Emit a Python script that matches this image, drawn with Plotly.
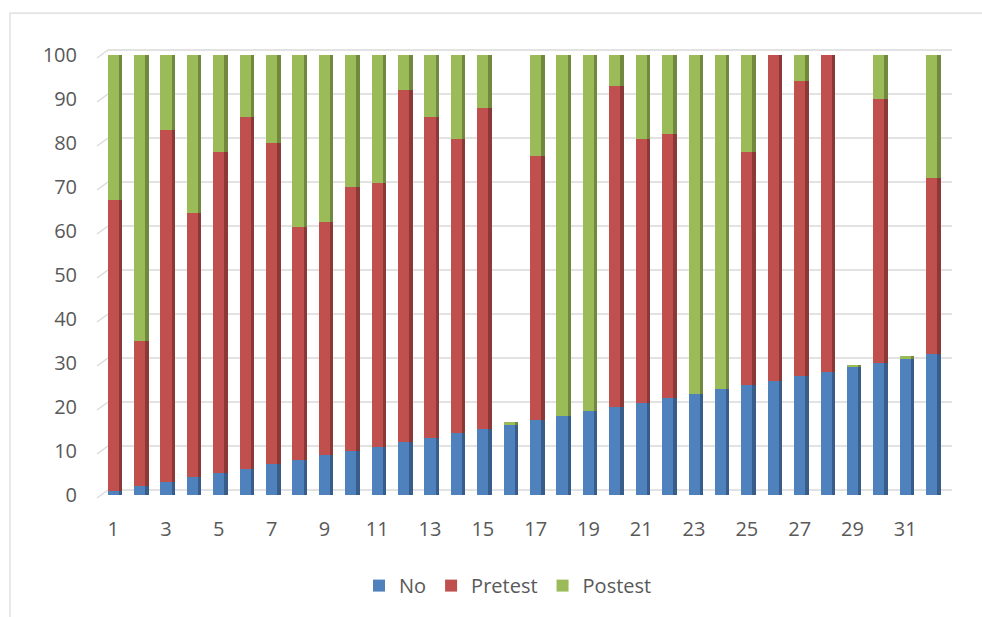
import plotly.graph_objects as go

# Participants 1..32 and the three stacked percentages
participants = list(range(1, 33))
no_pct = list(range(1, 33))
pretest_top = [67, 35, 83, 64, 78, 86, 80, 61, 62, 70, 71, 92, 86, 81, 88, 16,
               77, 18, 19, 93, 81, 82, 23, 24, 78, 100, 94, 100, 29, 90, 31, 72]
postest_pct = [33, 65, 17, 36, 22, 14, 20, 39, 38, 30, 29, 8, 14, 19, 12, 0.5,
               23, 82, 81, 7, 19, 18, 77, 76, 22, 0, 6, 0, 0.5, 10, 0.5, 28]
pretest_pct = [t - n for t, n in zip(pretest_top, no_pct)]

series = [
    ("No", no_pct, "#4F81BD", "#385D8A"),
    ("Pretest", pretest_pct, "#C0504D", "#8C3836"),
    ("Postest", postest_pct, "#9BBB59", "#71893F"),
]

W, H = 982, 617
L, R, T, B = 100, 30, 55, 120
PW, PH = W - L - R, H - T - B


def px_x(x):
    return (x - L) / PW


def px_y(y):
    return (H - B - y) / PH


FRONT_W = 0.42
SIDE_W = 0.13

fig = go.Figure()
base = [0.0] * len(participants)
for name, vals, col, dark in series:
    fig.add_trace(go.Bar(
        x=participants, y=vals, base=list(base), name=name,
        marker=dict(color=col, line=dict(width=0)),
        width=FRONT_W, offset=-FRONT_W / 2, legendgroup=name,
    ))
    fig.add_trace(go.Bar(
        x=participants, y=vals, base=list(base), name=name,
        marker=dict(color=dark, line=dict(width=0)),
        width=SIDE_W, offset=FRONT_W / 2, legendgroup=name,
        showlegend=False, hoverinfo="skip",
    ))
    base = [b + v for b, v in zip(base, vals)]

# gridlines on the back wall with a short slanted floor/side segment
grid_col = "#D9D9D9"
shapes = []
for v in range(0, 101, 10):
    yb = (H - B) - v * PH / 100.0
    shapes.append(dict(type="line", xref="paper", yref="paper",
                       x0=px_x(108), x1=px_x(952), y0=px_y(yb - 5), y1=px_y(yb - 5),
                       line=dict(color=grid_col, width=1.3), layer="below"))
    shapes.append(dict(type="line", xref="paper", yref="paper",
                       x0=px_x(97), x1=px_x(108), y0=px_y(yb + 3), y1=px_y(yb - 5),
                       line=dict(color=grid_col, width=1.3), layer="below"))
# chart border
shapes.append(dict(type="rect", xref="paper", yref="paper",
                   x0=px_x(10), x1=px_x(995), y0=px_y(13), y1=px_y(630),
                   line=dict(color="#D9D9D9", width=1.2), fillcolor="rgba(0,0,0,0)",
                   layer="below"))

font = dict(family="Open Sans, Liberation Sans, sans-serif", size=20, color="#595959")

fig.update_layout(
    width=W, height=H,
    margin=dict(l=L, r=R, t=T, b=B),
    barmode="overlay",
    paper_bgcolor="white", plot_bgcolor="white",
    font=font,
    shapes=shapes,
    bargap=0,
    legend=dict(orientation="h", x=px_x(508), xanchor="center",
                y=px_y(588), yanchor="middle", font=font,
                itemclick=False, traceorder="normal"),
    xaxis=dict(range=[0.5, 32.77], tickmode="linear", tick0=1, dtick=2,
               showgrid=False, zeroline=False, showline=False,
               ticks="outside", ticklen=16, tickcolor="rgba(0,0,0,0)",
               tickfont=font),
    yaxis=dict(range=[0, 100], tickmode="linear", tick0=0, dtick=10,
               showgrid=False, zeroline=False, showline=False,
               ticks="outside", ticklen=18, tickcolor="rgba(0,0,0,0)",
               tickfont=font),
)

fig.write_html("out.html")
